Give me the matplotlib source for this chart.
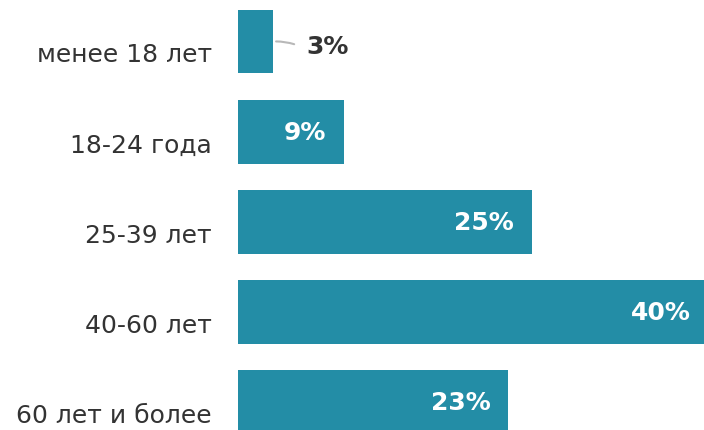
import matplotlib
matplotlib.use('Agg')
import matplotlib.pyplot as plt

# данные
categories = ['менее 18 лет', '18-24 года', '25-39 лет', '40-60 лет', '60 лет и более']
values = [3, 9, 25, 40, 23]
labels = ['3%', '9%', '25%', '40%', '23%']

BAR = '#238da6'
TEXT = '#333333'
PX = 72 / 100  # пиксели -> пункты
plt.rcParams['font.family'] = ['DejaVu Sans']

fig = plt.figure(figsize=(7.04, 4.31), dpi=100)
ax = fig.add_axes([238 / 704, 0, 466 / 704, 1])
ypos = list(range(len(categories)))
ax.barh(ypos, values, height=0.71, color=BAR)
# последний столбец обрезан правым краем, как в оригинале
ax.set_xlim(0, 466 / 11.76)
ax.set_ylim((431 - 42.5) / 90.1, -42.5 / 90.1)
ax.axis('off')

for y, v, lab, cat in zip(ypos, values, labels, categories):
    ax.annotate(cat, xy=(0, y), xytext=(-26 * PX, -13 * PX), textcoords='offset points',
                ha='right', va='center', fontsize=18, color=TEXT,
                annotation_clip=False)
    if v < 5:
        ax.annotate('', xy=(v, y), xytext=(v + 2.0, y + 0.04),
                    arrowprops=dict(arrowstyle='-', color='#b8b8b8', lw=1.5,
                                    connectionstyle='arc3,rad=0.1'))
        ax.annotate(lab, xy=(v, y), xytext=(33 * PX, -4 * PX), textcoords='offset points',
                    ha='left', va='center', fontsize=18, fontweight='bold',
                    color=TEXT)
    else:
        ax.annotate(lab, xy=(v, y), xytext=(-18 * PX, 0), textcoords='offset points',
                    ha='right', va='center', fontsize=18, fontweight='bold',
                    color='white', annotation_clip=False)

plt.savefig('out.png', dpi=100)
